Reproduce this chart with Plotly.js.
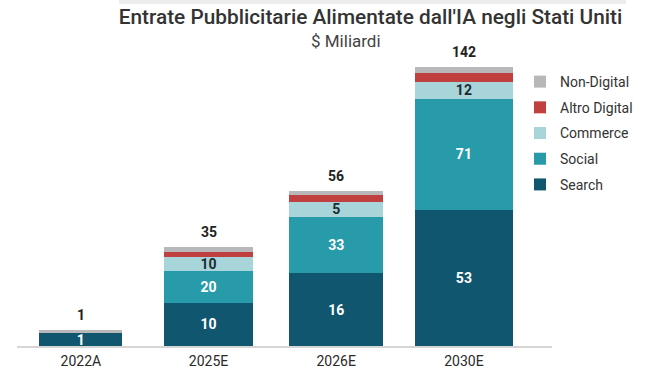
<!DOCTYPE html>
<html>
<head>
<meta charset="utf-8">
<script src="https://cdn.plot.ly/plotly-3.0.1.min.js"></script>
<style>html,body{margin:0;padding:0;background:#fff;}#chart{width:670px;height:377px;}</style>
</head>
<body>
<div id="chart"></div>
<script>
// Categories
const years = ['2022A', '2025E', '2026E', '2030E'];

// Segment heights as drawn in the picture (2030E total scaled to 142)
const searchHeight     = [6.6, 22.0, 37.0, 69.5];
const socialHeight     = [0,   16.3, 28.9, 56.7];
const commerceHeight   = [0,   7.2,  7.5,  8.7];
const altroHeight      = [0,   2.6,  3.4,  4.6];
const nonDigitalHeight = [1.4, 2.2,  2.2,  2.6];

// Printed labels
const searchLabel   = ['1', '10', '16', '53'];
const socialLabel   = ['', '20', '33', '71'];
const commerceLabel = ['', '10', '5', '12'];
const totalLabel    = ['1', '35', '56', '142'];

const barWidth = [0.65, 0.70, 0.735, 0.77];

const colors = {
  search: '#11566f',
  social: '#279ba9',
  commerce: '#a7d5d9',
  altro: '#c0403f',
  nonDigital: '#b8b8ba'
};

const FONT = 'Roboto, "Open Sans", sans-serif';
const labelFont = {family: FONT, size: 14, weight: 700};

function barTrace(name, y, color, text, textColor, rank) {
  return {
    type: 'bar', name: name, x: years, y: y, width: barWidth,
    marker: {color: color, line: {width: 0}},
    text: text, textposition: text ? 'inside' : 'none', textangle: 0,
    insidetextanchor: 'middle', constraintext: 'none',
    textfont: Object.assign({}, labelFont, {color: textColor}),
    hoverinfo: 'skip', legendgroup: name, legendrank: rank
  };
}

const totals = years.map((_, i) => searchHeight[i] + socialHeight[i] + commerceHeight[i] + altroHeight[i] + nonDigitalHeight[i]);

const data = [
  barTrace('Search', searchHeight, colors.search, searchLabel, '#ffffff', 5),
  barTrace('Social', socialHeight, colors.social, socialLabel, '#ffffff', 4),
  barTrace('Commerce', commerceHeight, colors.commerce, commerceLabel, '#1f2a30', 3),
  barTrace('Altro Digital', altroHeight, colors.altro, null, '#fff', 2),
  barTrace('Non-Digital', nonDigitalHeight, colors.nonDigital, null, '#fff', 1)
];

const totalAnnotations = years.map((yr, i) => ({
  x: yr, y: totals[i], xref: 'x', yref: 'y', text: totalLabel[i],
  showarrow: false, xanchor: 'center', yanchor: 'bottom', yshift: 5,
  font: Object.assign({}, labelFont, {color: '#222222'})
}));

const layout = {
  width: 670, height: 377,
  margin: {l: 17, r: 118, t: 40, b: 31.3, pad: 0},
  paper_bgcolor: '#ffffff', plot_bgcolor: '#ffffff',
  barmode: 'stack', bargap: 0,
  font: {family: FONT, color: '#333333'},
  title: {
    text: "Entrate Pubblicitarie Alimentate dall'IA negli Stati Uniti",
    x: 0.553, xanchor: 'center', xref: 'container',
    y: 1 - 17 / 377, yanchor: 'middle', yref: 'container',
    font: {family: FONT, size: 20.8, color: '#333333', weight: 500}
  },
  annotations: [{
    text: '$ Miliardi', xref: 'paper', yref: 'paper',
    x: (346.5 - 17) / 535, y: (345.7 - 41) / 305.7,
    xanchor: 'center', yanchor: 'middle', showarrow: false,
    font: {family: FONT, size: 17, color: '#444444'}
  }].concat(totalAnnotations),
  shapes: [{
    type: 'rect', xref: 'paper', yref: 'paper',
    x0: (119 - 17) / 535, x1: (626 - 17) / 535,
    y0: (345.7 - 4) / 305.7, y1: 345.7 / 305.7,
    fillcolor: '#ececec', line: {width: 0}, layer: 'below'
  }],
  xaxis: {
    type: 'category', range: [-0.5, 3.69],
    showgrid: false, zeroline: false,
    showline: true, linecolor: '#d6d6d6', linewidth: 1.5,
    ticks: '', ticklabelstandoff: 2,
    tickfont: {family: FONT, size: 14, color: '#2a2a2a', weight: 400},
    fixedrange: true
  },
  yaxis: {
    range: [0, 156.1], visible: false, showgrid: false, zeroline: false, fixedrange: true
  },
  legend: {
    x: (520 - 17) / 535, xanchor: 'left', y: (345.7 - 66) / 305.7, yanchor: 'top',
    traceorder: 'grouped', tracegroupgap: 4.5,
    font: {family: FONT, size: 14, color: '#333333'},
    bgcolor: 'rgba(0,0,0,0)', itemwidth: 30
  },
  showlegend: true
};

Plotly.newPlot('chart', data, layout, {displayModeBar: false, staticPlot: true});
</script>
</body>
</html>
